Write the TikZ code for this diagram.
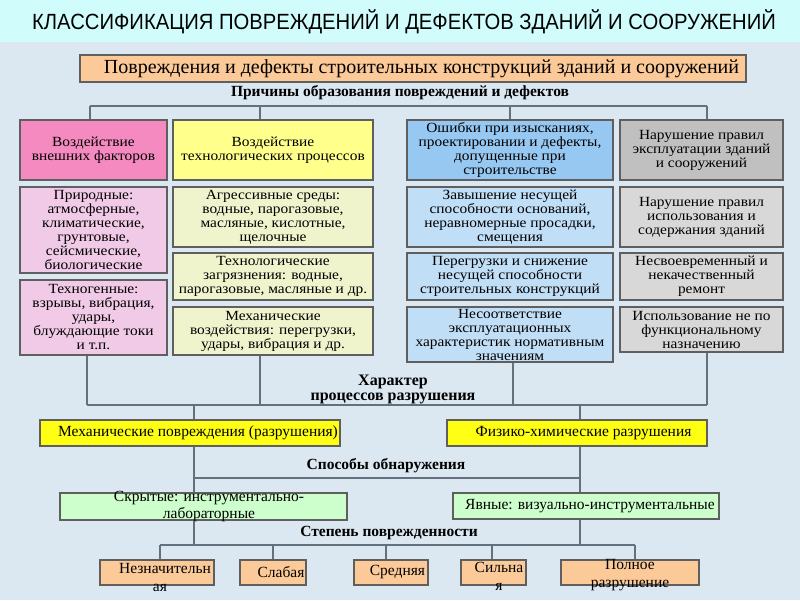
\documentclass[tikz,border=0pt]{standalone}
\usepackage{fontspec}
\setmainfont{Liberation Serif}
\newfontfamily\titlefont[FakeStretch=0.92]{Liberation Sans}
\newfontfamily\cellfont[FakeStretch=1.1]{Liberation Serif}
\usetikzlibrary{positioning}

\definecolor{bgblue}{RGB}{219,231,241}
\definecolor{band}{RGB}{208,252,252}
\definecolor{edge}{RGB}{95,95,95}
\definecolor{wire}{RGB}{100,112,125}
\definecolor{peach}{RGB}{252,202,152}
\definecolor{pinkhead}{RGB}{244,138,192}
\definecolor{pinkcell}{RGB}{240,202,230}
\definecolor{yelhead}{RGB}{255,255,140}
\definecolor{yelcell}{RGB}{240,244,204}
\definecolor{bluehead}{RGB}{150,200,242}
\definecolor{bluecell}{RGB}{192,222,246}
\definecolor{grayhead}{RGB}{192,192,192}
\definecolor{graycell}{RGB}{216,216,216}
\definecolor{brightyel}{RGB}{255,255,20}
\definecolor{mint}{RGB}{204,255,204}

\begin{document}
\begin{tikzpicture}[x=1pt, y=-1pt,
    cell/.style={draw=edge, line width=1.2pt, inner sep=0pt, align=center,
      font=\cellfont\fontsize{14}{14}\selectfont},
    flat/.style={draw=edge, line width=1.2pt, inner sep=0pt, align=center,
      font=\fontsize{15.5}{17}\selectfont},
    plain/.style={draw=edge, line width=1.2pt},
    caption/.style={inner sep=0pt, align=center, font=\bfseries\fontsize{15.5}{15}\selectfont},
    loose/.style={inner sep=0pt, align=center, font=\fontsize{15.5}{18}\selectfont},
    conn/.style={draw=wire, line width=1.5pt}]

    % Background
    \fill[bgblue] (0,0) rectangle (800,600);
    \fill[band] (0,0) rectangle (800,42);
    \useasboundingbox (0,0) rectangle (800,600);

    % Title
    \node[inner sep=0pt, font=\titlefont\fontsize{22}{24}\selectfont] (title) at (404,22)
        {КЛАССИФИКАЦИЯ ПОВРЕЖДЕНИЙ И ДЕФЕКТОВ ЗДАНИЙ И СООРУЖЕНИЙ};

    % Top box
    \node[flat, fill=peach, minimum width=666, minimum height=27,
        font=\fontsize{20}{20}\selectfont] (main) at (413,68.5)
        {\hspace{17pt}Повреждения и дефекты строительных конструкций зданий и сооружений};
    \node[caption] (causes) at (400,93) {Причины образования повреждений и дефектов};

    % Column 1: external factors
    \node[cell, fill=pinkhead, minimum width=147, minimum height=60] (ext1) at (93.5,150)
        {Воздействие\\внешних факторов};
    \node[cell, fill=pinkcell, minimum width=147, minimum height=86] (ext2) at (93.5,230)
        {Природные:\\атмосферные,\\климатические,\\грунтовые,\\сейсмические,\\биологические};
    \node[cell, fill=pinkcell, minimum width=147, minimum height=75] (ext3) at (93.5,317.5)
        {Техногенные:\\взрывы, вибрация,\\удары,\\блуждающие токи\\и т.п.};

    % Column 2: technological processes
    \node[cell, fill=yelhead, minimum width=200, minimum height=60] (tech1) at (273,150)
        {Воздействие\\технологических процессов};
    \node[cell, fill=yelcell, minimum width=200, minimum height=60] (tech2) at (273,217)
        {Агрессивные среды:\\водные, парогазовые,\\масляные, кислотные,\\щелочные};
    \node[cell, fill=yelcell, minimum width=200, minimum height=47] (tech3) at (273,276.5)
        {Технологические\\загрязнения: водные,\\парогазовые, масляные и др.};
    \node[cell, fill=yelcell, minimum width=200, minimum height=48] (tech4) at (273,331)
        {Механические\\воздействия: перегрузки,\\удары, вибрация и др.};

    % Column 3: design and construction errors
    \node[cell, fill=bluehead, minimum width=206, minimum height=60] (err1) at (510,150)
        {Ошибки при изысканиях,\\проектировании и дефекты,\\допущенные при\\строительстве};
    \node[cell, fill=bluecell, minimum width=206, minimum height=60] (err2) at (510,217)
        {Завышение несущей\\способности оснований,\\неравномерные просадки,\\смещения};
    \node[cell, fill=bluecell, minimum width=206, minimum height=47] (err3) at (510,276.5)
        {Перегрузки и снижение\\несущей способности\\строительных конструкций};
    \node[cell, fill=bluecell, minimum width=206, minimum height=55] (err4) at (510,334.5)
        {Несоответствие\\эксплуатационных\\характеристик нормативным\\значениям};

    % Column 4: operating rules
    \node[cell, fill=grayhead, minimum width=163, minimum height=60] (rule1) at (701.5,150)
        {Нарушение правил\\эксплуатации зданий\\и сооружений};
    \node[cell, fill=graycell, minimum width=163, minimum height=60] (rule2) at (701.5,217)
        {Нарушение правил\\использования и\\содержания зданий};
    \node[cell, fill=graycell, minimum width=163, minimum height=47] (rule3) at (701.5,276.5)
        {Несвоевременный и\\некачественный\\ремонт};
    \node[cell, fill=graycell, minimum width=163, minimum height=45] (rule4) at (701.5,329.5)
        {Использование не по\\функциональному\\назначению};

    % Character of destruction
    \node[caption, font=\bfseries\fontsize{16}{15}\selectfont] (nature) at (393,389)
        {Характер\\процессов разрушения};
    \node[flat, fill=brightyel, minimum width=300, minimum height=26] (mech) at (190,433)
        {\hspace{16pt}Механические повреждения (разрушения)};
    \node[flat, fill=brightyel, minimum width=260, minimum height=26] (phys) at (577,433)
        {\hspace{13pt}Физико-химические разрушения};

    % Detection
    \node[caption] (detect) at (386,466) {Способы обнаружения};
    \node[plain, fill=mint, minimum width=287, minimum height=27] (hidden) at (203.5,506.5) {};
    \node[loose, font=\fontsize{15.5}{17}\selectfont] (hiddentxt) at (209,507)
        {Скрытые: инструментально-\\лабораторные};
    \node[flat, fill=mint, minimum width=266, minimum height=26] (open) at (586,506)
        {\hspace{8pt}Явные: визуально-инструментальные};

    % Degree of damage
    \node[caption] (degree) at (389,533) {Степень поврежденности};
    \node[plain, fill=peach, minimum width=114, minimum height=25] (deg1) at (157,572.5) {};
    \node[flat, fill=peach, minimum width=66, minimum height=25] (deg2) at (273,572.5) {\hspace{16pt}Слабая};
    \node[flat, fill=peach, minimum width=74, minimum height=25] (deg3) at (391,572.5) {\hspace{13pt}Средняя};
    \node[plain, fill=peach, minimum width=65, minimum height=25] (deg4) at (493.5,572.5) {};
    \node[plain, fill=peach, minimum width=138, minimum height=25] (deg5) at (630,572.5) {};
    \node[loose] (deg1txt) at (160,577) {\hspace{10pt}Незначительн\\ая};
    \node[loose] (deg4txt) at (499,576) {Сильна\\я};
    \node[loose] (deg5txt) at (630,575) {Полное\\разрушение};

    % Connectors: causes
    \coordinate (tb1) at (90,106);
    \coordinate (tb2) at (260,106);
    \coordinate (tb3) at (510,106);
    \coordinate (tb4) at (707,106);
    \draw[conn] (tb1) -- (tb4);
    \foreach \c/\n in {tb1/ext1, tb2/tech1, tb3/err1, tb4/rule1}
        \draw[conn] (\c) -- (\c |- \n.north);

    % Connectors: character
    \coordinate (mb1) at (87,405);
    \coordinate (mb2) at (260,405);
    \coordinate (mb3) at (513,405);
    \coordinate (mb4) at (707,405);
    \draw[conn] (mb1) -- (mb4);
    \foreach \c/\n in {mb1/ext3, mb2/tech4, mb3/err4, mb4/rule4}
        \draw[conn] (\c |- \n.south) -- (\c);
    \coordinate (db1) at (194,478);
    \coordinate (db2) at (580,478);
    \draw[conn] (db1 |- mb1) -- (db1 |- mech.north);
    \draw[conn] (db2 |- mb1) -- (db2 |- phys.north);

    % Connectors: detection
    \draw[conn] (db1) -- (db2);
    \draw[conn] (db1 |- mech.south) -- (db1 |- hidden.north);
    \draw[conn] (db2 |- phys.south) -- (db2 |- open.north);

    % Connectors: degree
    \coordinate (gb1) at (160,545);
    \coordinate (gb2) at (273,545);
    \coordinate (gb3) at (386,545);
    \coordinate (gb4) at (492,545);
    \coordinate (gb5) at (635,545);
    \draw[conn] (gb1) -- (gb5);
    \draw[conn] (db1 |- hidden.south) -- (db1 |- gb1);
    \draw[conn] (db2 |- open.south) -- (db2 |- gb1);
    \foreach \c/\n in {gb1/deg1, gb2/deg2, gb3/deg3, gb4/deg4, gb5/deg5}
        \draw[conn] (\c) -- (\c |- \n.north);

\end{tikzpicture}
\end{document}
